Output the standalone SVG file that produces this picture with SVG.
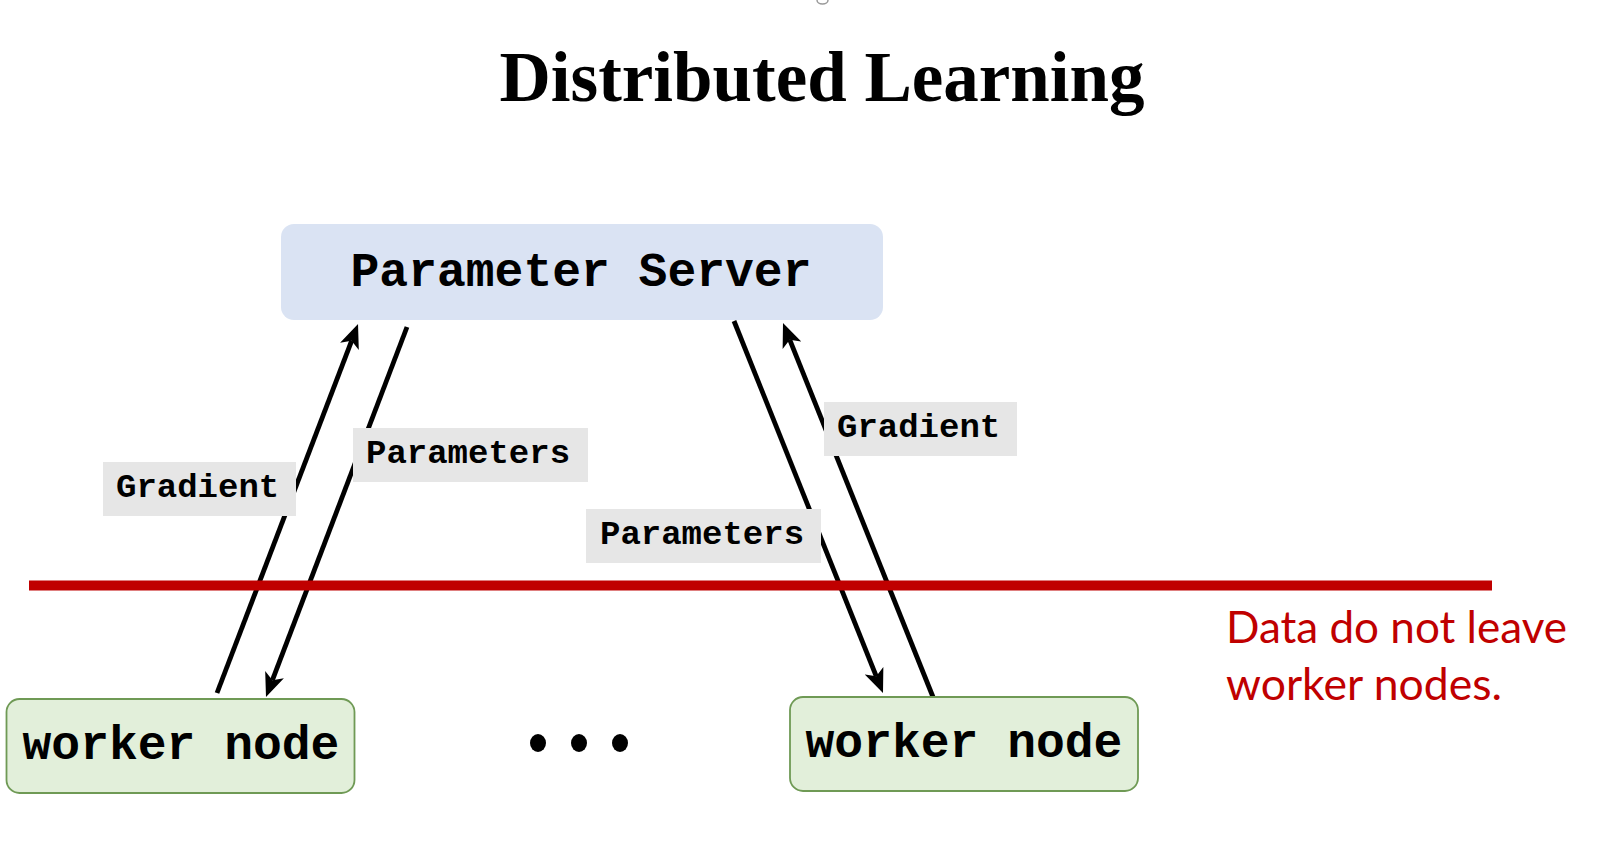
<svg xmlns="http://www.w3.org/2000/svg" width="1612" height="868" viewBox="0 0 1612 868">
  <style>
    .mono { font-family: "Liberation Mono", "Courier New", monospace; font-weight: bold; fill: #000; }
    .node-text { font-size: 48px; text-anchor: middle; }
    .label-text { font-size: 34px; }
    .label-bg { fill: #e6e6e6; }
    .worker { fill: #e2efda; stroke: #6f9a55; stroke-width: 1.8; }
    .server { fill: #dae3f3; }
    .conn { stroke: #000; stroke-width: 4.8; fill: none; marker-end: url(#arrow); }
    .note { font-family: Lato, "Open Sans", sans-serif; font-size: 44px; fill: #c00000; }
  </style>
  <defs>
    <marker id="arrow" markerUnits="userSpaceOnUse" viewBox="0 -10 24 20" markerWidth="24" markerHeight="20" refX="6" refY="0" orient="auto">
      <path d="M0,-10 L24,0 L0,10 L6,0 Z" fill="#000"/>
    </marker>
  </defs>
  <rect width="1612" height="868" fill="#fff"/>
  <path d="M817,0 A5.5,4 0 0 0 828,0" fill="none" stroke="#9a9a9a" stroke-width="1.5"/>
  <text x="822" y="101" font-family="'Liberation Serif', 'Times New Roman', serif" font-weight="bold" font-size="71" text-anchor="middle">Distributed Learning</text>

  <g id="connectors">
    <line class="conn" x1="217" y1="693" x2="351.6" y2="340.8"/>
    <line class="conn" x1="407" y1="327" x2="272.4" y2="680.2"/>
    <line class="conn" x1="734" y1="321" x2="876.3" y2="676.3"/>
    <line class="conn" x1="933" y1="697" x2="789.7" y2="339.7"/>
  </g>

  <g id="label-gradient-left">
    <rect class="label-bg" x="103" y="462" width="193" height="54"/>
    <text class="mono label-text" x="116" y="497">Gradient</text>
  </g>
  <g id="label-parameters-left">
    <rect class="label-bg" x="353" y="428" width="235" height="54"/>
    <text class="mono label-text" x="366" y="463">Parameters</text>
  </g>
  <g id="label-gradient-right">
    <rect class="label-bg" x="824" y="402" width="193" height="54"/>
    <text class="mono label-text" x="837" y="437">Gradient</text>
  </g>
  <g id="label-parameters-right">
    <rect class="label-bg" x="586" y="509" width="235" height="54"/>
    <text class="mono label-text" x="600" y="544">Parameters</text>
  </g>

  <g id="parameter-server">
    <rect class="server" x="281" y="224" width="602" height="96" rx="13" ry="13"/>
    <text class="mono node-text" x="581" y="286">Parameter Server</text>
  </g>

  <g id="worker-node-1">
    <rect class="worker" x="6.5" y="699" width="348" height="94" rx="13" ry="13"/>
    <text class="mono node-text" x="181" y="759">worker node</text>
  </g>

  <g id="ellipsis">
    <ellipse cx="538" cy="743" rx="8" ry="9"/>
    <ellipse cx="579" cy="743" rx="8" ry="9"/>
    <ellipse cx="620" cy="743" rx="8" ry="9"/>
  </g>

  <g id="worker-node-2">
    <rect class="worker" x="790" y="697" width="348" height="94" rx="13" ry="13"/>
    <text class="mono node-text" x="964" y="757">worker node</text>
  </g>

  <g id="boundary">
    <line x1="29" y1="585.5" x2="1492" y2="585.5" stroke="#c00000" stroke-width="10"/>
    <text class="note" x="1226" y="643" textLength="341" lengthAdjust="spacingAndGlyphs">Data do not leave</text>
    <text class="note" x="1226" y="700" textLength="276" lengthAdjust="spacingAndGlyphs">worker nodes.</text>
  </g>
</svg>
